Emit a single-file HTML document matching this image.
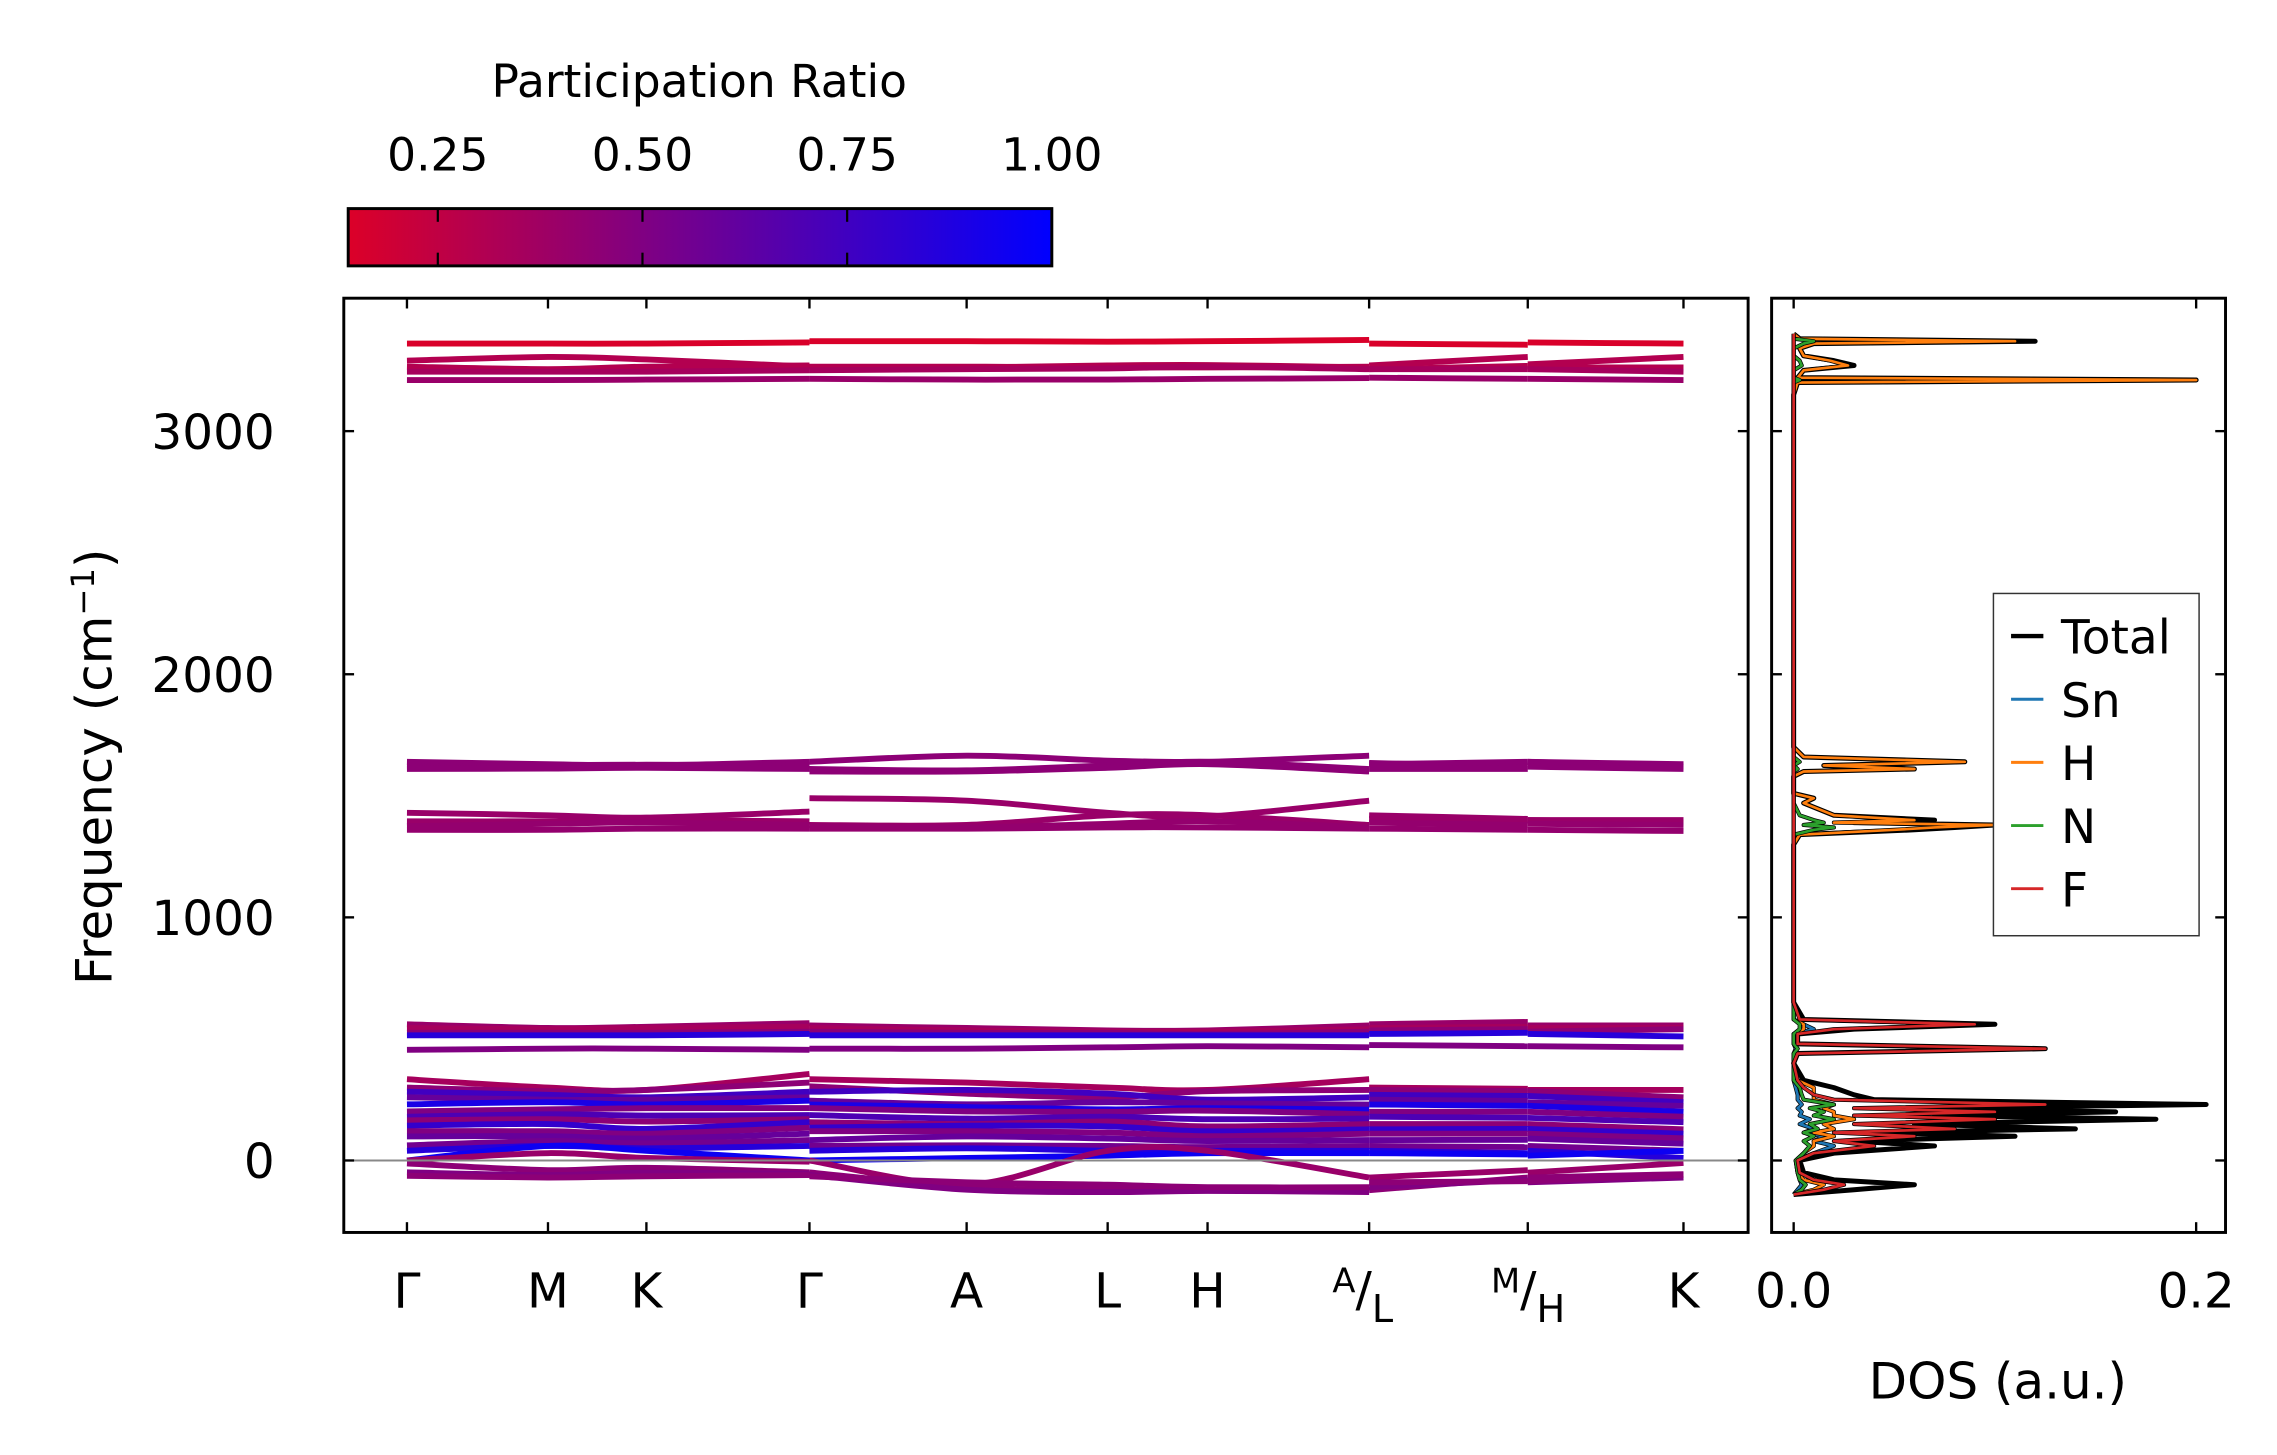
<!DOCTYPE html>
<html><head><meta charset="utf-8">
<style>
html,body{margin:0;padding:0;background:#fff;}
svg{display:block;font-family:"DejaVu Sans","Liberation Sans",sans-serif;}
</style></head>
<body>
<svg id="fig" width="2277" height="1455" viewBox="0 0 1550 990.5" xmlns="http://www.w3.org/2000/svg">
<defs>
<linearGradient id="cmap" x1="0" x2="1" y1="0" y2="0">
<stop offset="0" stop-color="rgb(220,0,40)"/><stop offset="1" stop-color="rgb(0,0,255)"/>
</linearGradient>
<clipPath id="mainclip"><rect x="234" y="203" width="956" height="636"/></clipPath>
<clipPath id="dosclip"><rect x="1206" y="203" width="309" height="636"/></clipPath>
</defs>
<g>
<text x="476" y="66" font-size="31" text-anchor="middle">Participation Ratio</text>
<rect x="237" y="142" width="479" height="39" fill="url(#cmap)" stroke="#000" stroke-width="2"/>
<g id="cbticks"></g>
</g>
<g id="main">
<g id="bands" clip-path="url(#mainclip)"></g>
<line x1="234" x2="1190" y1="790" y2="790" stroke="#888" stroke-width="1.4"/>
<rect x="234" y="203" width="956" height="636" fill="none" stroke="#000" stroke-width="2"/>
<g id="mainticks"></g>
<text transform="translate(76,522) rotate(-90)" font-size="34" text-anchor="middle">Frequency (cm<tspan dy="-12" font-size="22">−1</tspan><tspan dy="12">)</tspan></text>
</g>
<g id="dos">
<g id="doslines" clip-path="url(#dosclip)"></g>
<rect x="1206" y="203" width="309" height="636" fill="none" stroke="#000" stroke-width="2"/>
<g id="dosticks"></g>
<text x="1360" y="952" font-size="34" text-anchor="middle">DOS (a.u.)</text>
<g>
<rect x="1357" y="404" width="140" height="233" fill="#fff" stroke="#333" stroke-width="1"/>
<g id="legendentries"></g>
</g>
</g>
</svg>
<script>
// ---------- data ----------
const kLabels = ["Γ","M","K","Γ","A","L","H","A|L","M|H","K"];
const kTickDist = [0,96,163,274,381,477,545,655,763,869];
// band samples at path points: [Γ,M,K,Γ | Γ,A,L,H,A | L,M | H,K]
const kPathDist = [0,96,163,274, 274,381,477,545,655, 655,763, 763,869];
const segments = [[0,3],[4,8],[9,10],[11,12]];
const bandFreqs = [
 [3360,3360,3360,3365, 3370,3370,3368,3370,3375, 3360,3355, 3365,3360],
 [3290,3305,3295,3265, 3260,3262,3270,3272,3262, 3270,3305, 3275,3305],
 [3265,3255,3265,3270, 3265,3265,3262,3262,3265, 3255,3268, 3262,3262],
 [3245,3245,3245,3250, 3250,3255,3258,3265,3255, 3255,3255, 3255,3245],
 [3210,3210,3212,3215, 3215,3212,3212,3215,3218, 3220,3215, 3215,3210],
 [1640,1630,1625,1640, 1640,1665,1645,1640,1665, 1635,1620, 1640,1630],
 [1620,1625,1628,1625, 1610,1605,1625,1640,1610, 1630,1640, 1640,1620],
 [1610,1612,1615,1610, 1600,1600,1615,1630,1600, 1610,1610, 1620,1610],
 [1430,1420,1410,1435, 1490,1480,1430,1415,1480, 1420,1405, 1400,1390],
 [1395,1395,1400,1395, 1380,1380,1420,1420,1380, 1405,1395, 1400,1400],
 [1375,1385,1390,1380, 1375,1370,1385,1395,1370, 1390,1380, 1385,1380],
 [1360,1360,1365,1365, 1365,1365,1370,1370,1365, 1365,1360, 1360,1355],
 [560,545,550,565, 555,545,535,535,555, 560,570, 555,555],
 [545,540,545,550, 545,535,530,530,540, 545,550, 545,545],
 [525,525,525,530, 530,525,525,520,530, 535,540, 530,540],
 [515,515,515,520, 515,515,515,515,515, 520,525, 520,510],
 [455,460,460,455, 460,460,465,470,465, 475,470, 470,465],
 [334,300,290,356, 334,320,300,290,334, 300,295, 290,290],
 [300,285,290,320, 305,275,260,285,290, 290,285, 285,260],
 [283,270,260,283, 283,290,275,250,260, 270,265, 265,240],
 [260,250,250,260, 246,231,240,235,230, 250,245, 240,224],
 [231,240,230,246, 230,220,210,215,209, 230,225, 225,200],
 [202,210,215,216, 216,202,200,205,190, 200,200, 200,180],
 [180,190,185,187, 187,172,180,170,172, 180,175, 175,158],
 [165,170,160,170, 158,150,160,140,150, 150,150, 150,128],
 [143,150,130,158, 135,143,140,120,128, 128,130, 130,110],
 [120,120,110,135, 120,120,115,100,110, 110,110, 110,91],
 [99,100,90,110, 84,99,90,80,84, 84,85, 90,69],
 [62,80,70,84, 60,62,60,55,60, 60,55, 60,40],
 [40,60,50,60, 40,50,40,40,40, 40,30, 40,10],
 [0,60,40,0, 0,10,20,30,30, 30,25, 20,40],
 [0,30,10,-5, 0,-100,40,40,-70, -70,-40, -50,-10],
 [-12,-40,-30,-49, -49,-110,-120,-115,-122, -122,-70, -70,-56],
 [-49,-60,-50,-55, -60,-120,-130,-125,-130, -110,-80, -90,-70],
 [-63,-70,-65,-60, -65,-90,-100,-110,-110, -90,-85, -85,-60]
];
const bandPR = [0.15,0.3,0.3,0.35,0.4, 0.45,0.45,0.45, 0.4,0.4,0.42,0.42, 0.4,0.35,0.45,0.85,0.5,
 0.35,0.45,0.75,0.6,0.9,0.5,0.7,0.45,0.8,0.5,0.6,0.55,0.85,0.95,0.4,0.45,0.5,0.45];
const freqTicks = [0,1000,2000,3000];
const cbTicks = [0.25,0.50,0.75,1.00];
// DOS
const dosFreq = [-140,-120,-100,-80,-50,0,30,60,80,100,115,130,150,170,185,200,215,230,250,270,300,330,400,440,460,480,520,540,560,580,650,
 1300,1340,1360,1370,1380,1390,1400,1420,1470,1490,1510,1580,1600,1610,1625,1640,1660,1700,
 3150,3200,3210,3220,3250,3270,3290,3310,3340,3360,3370,3380,3400];
const dosTotal = [0,0.03,0.06,0.02,0.005,0.003,0.02,0.07,0.03,0.11,0.04,0.14,0.06,0.18,0.07,0.16,0.06,0.205,0.04,0.03,0.02,0.005,0,0.002,0.125,0.002,0.002,0.03,0.1,0.005,0,
 0,0.003,0.06,0.08,0.1,0.03,0.07,0.02,0.005,0.01,0,0,0.005,0.06,0.015,0.085,0.005,0,
 0,0.002,0.2,0.002,0.005,0.03,0.02,0.005,0.003,0.01,0.12,0.003,0];
const dosSn = [0,0.002,0.004,0.003,0.002,0.001,0.01,0.02,0.01,0.015,0.005,0.01,0.003,0.008,0.003,0.004,0.002,0.004,0.002,0.002,0.001,0,0,0,0.001,0,0,0.01,0.005,0,0,
 0,0,0,0,0,0,0,0,0,0,0,0,0,0,0,0,0,0, 0,0,0,0,0,0,0,0,0,0,0,0,0];
const dosH = [0,0.01,0.015,0.005,0.002,0.001,0.005,0.01,0.01,0.02,0.01,0.02,0.015,0.03,0.02,0.02,0.015,0.02,0.01,0.01,0.01,0.002,0,0,0.002,0,0,0.005,0.005,0,0,
 0,0.003,0.05,0.07,0.1,0.02,0.06,0.02,0.005,0.01,0,0,0.005,0.06,0.015,0.085,0.005,0,
 0,0.002,0.2,0.002,0.005,0.027,0.018,0.005,0.003,0.01,0.11,0.003,0];
const dosN = [0,0.004,0.006,0.003,0.002,0.001,0.005,0.008,0.005,0.01,0.005,0.012,0.008,0.02,0.01,0.015,0.008,0.02,0.005,0.004,0.003,0,0,0,0.002,0,0,0.003,0.003,0,0,
 0,0,0.01,0.02,0.005,0.015,0.01,0.003,0,0,0,0,0,0.002,0,0.003,0,0,
 0,0,0.003,0,0,0.004,0.003,0,0,0.005,0.01,0,0];
const dosF = [0,0.015,0.025,0.01,0.003,0.002,0.01,0.04,0.02,0.06,0.02,0.08,0.03,0.1,0.03,0.1,0.03,0.125,0.02,0.01,0.005,0.002,0,0.002,0.125,0.002,0.002,0.02,0.09,0.003,0,
 0,0,0,0,0,0,0,0,0,0,0,0,0,0,0,0,0,0, 0,0,0,0,0,0,0,0,0,0,0,0,0];
const dosSeriesNames = ["Total","Sn","H","N","F"];
const dosSeriesColors = ["#000000","#1f77b4","#ff7f0e","#2ca02c","#d62728"];
const dosTicks = [0.0,0.2];

// ---------- scales ----------
const NS="http://www.w3.org/2000/svg";
const yS = f => 790 - f*0.1655;
const xK = d => 277 + d*(1146-277)/869;
const xD = v => 1221 + v*(1495-1221)/0.2;
const xCB = v => 298 + (v-0.25)*(716-298)/0.75;
function prColor(p){ const t=Math.max(0,Math.min(1,(p-0.14)/0.86)); return `rgb(${Math.round(220*(1-t))},0,${Math.round(40+215*t)})`; }
function mk(tag, attrs, parent){ const e=document.createElementNS(NS,tag); for(const k in attrs) e.setAttribute(k,attrs[k]); parent.appendChild(e); return e; }
function smoothPath(pts){
  let d=`M${pts[0][0].toFixed(1)},${pts[0][1].toFixed(1)}`;
  for(let i=0;i<pts.length-1;i++){
    const p0=pts[Math.max(0,i-1)],p1=pts[i],p2=pts[i+1],p3=pts[Math.min(pts.length-1,i+2)];
    const c1=[p1[0]+(p2[0]-p0[0])/6,p1[1]+(p2[1]-p0[1])/6], c2=[p2[0]-(p3[0]-p1[0])/6,p2[1]-(p3[1]-p1[1])/6];
    d+=`C${c1[0].toFixed(1)},${c1[1].toFixed(1)} ${c2[0].toFixed(1)},${c2[1].toFixed(1)} ${p2[0].toFixed(1)},${p2[1].toFixed(1)}`;
  }
  return d;
}

// ---------- bands ----------
const gB=document.getElementById('bands');
bandFreqs.forEach((b,bi)=>{
  segments.forEach(([s,e])=>{
    const pts=[]; for(let i=s;i<=e;i++) pts.push([xK(kPathDist[i]),yS(b[i])]);
    const p=mk('path',{d:smoothPath(pts),fill:'none',stroke:prColor(bandPR[bi]),'stroke-width':4,'stroke-linecap':'butt'},gB);
    
    
  });
});

// ---------- main ticks ----------
const gT=document.getElementById('mainticks');
freqTicks.forEach(f=>{
  const y=yS(f);
  mk('line',{x1:234,x2:241,y1:y,y2:y,stroke:'#000','stroke-width':1.6},gT);
  mk('line',{x1:1183,x2:1190,y1:y,y2:y,stroke:'#000','stroke-width':1.6},gT);
  const t=mk('text',{x:187,y:y+12,'font-size':33,'text-anchor':'end'},gT); t.textContent=f;
  
  
});
kTickDist.forEach((d,i)=>{
  const x=xK(d);
  mk('line',{x1:x,x2:x,y1:832,y2:839,stroke:'#000','stroke-width':1.6},gT);
  mk('line',{x1:x,x2:x,y1:203,y2:210,stroke:'#000','stroke-width':1.6},gT);
  const lab=kLabels[i];
  let t;
  if(lab.includes('|')){
    const [a,b]=lab.split('|');
    t=mk('text',{x:x-25,y:880,'font-size':23},gT);
    const s1=mk('tspan',{},t); s1.textContent=a;
    const s2=mk('tspan',{'font-size':33,dy:9}, t); s2.textContent='/';
    const s3=mk('tspan',{'font-size':26,dy:11}, t); s3.textContent=b;
  } else {
    t=mk('text',{x:x,y:890,'font-size':33,'text-anchor':'middle'},gT); t.textContent=lab;
  }
  
  
});

// ---------- colorbar ticks ----------
const gC=document.getElementById('cbticks');
cbTicks.forEach(v=>{
  const x=xCB(v);
  if(v<1){ mk('line',{x1:x,x2:x,y1:142,y2:151,stroke:'#000','stroke-width':1.5},gC);
           mk('line',{x1:x,x2:x,y1:172,y2:181,stroke:'#000','stroke-width':1.5},gC); }
  const t=mk('text',{x:x,y:116,'font-size':31,'text-anchor':'middle'},gC); t.textContent=v.toFixed(2);
  
  
});

// ---------- DOS ----------
const gD=document.getElementById('doslines');
const dosSeries=[dosTotal,dosSn,dosH,dosN,dosF];
dosSeries.forEach((vals,si)=>{
  const d=vals.map((v,i)=>(i?'L':'M')+xD(v).toFixed(1)+','+yS(dosFreq[i]).toFixed(1)).join('');
  const under=mk('path',{d,fill:'none',stroke:'#000','stroke-width':si===0?3.4:2.8,'stroke-linejoin':'round'},gD);
  
  
  const p=mk('path',{d,fill:'none',stroke:dosSeriesColors[si],'stroke-width':si===0?2.6:1.8,'stroke-linejoin':'round'},gD);
  
  
});
const gDT=document.getElementById('dosticks');
freqTicks.forEach(f=>{
  const y=yS(f);
  mk('line',{x1:1206,x2:1213,y1:y,y2:y,stroke:'#000','stroke-width':1.6},gDT);
  mk('line',{x1:1508,x2:1515,y1:y,y2:y,stroke:'#000','stroke-width':1.6},gDT);
});
dosTicks.forEach(v=>{
  const x=xD(v);
  mk('line',{x1:x,x2:x,y1:832,y2:839,stroke:'#000','stroke-width':1.6},gDT);
  mk('line',{x1:x,x2:x,y1:203,y2:210,stroke:'#000','stroke-width':1.6},gDT);
  const t=mk('text',{x:x,y:890,'font-size':33,'text-anchor':'middle'},gDT); t.textContent=v.toFixed(1);
  
  
});
const gL=document.getElementById('legendentries');
dosSeriesNames.forEach((n,i)=>{
  const y=433+i*43;
  const l=mk('line',{x1:1369,x2:1391,y1:y,y2:y,stroke:dosSeriesColors[i],'stroke-width':i===0?3:2},gL);
  
  
  const t=mk('text',{x:1403,y:y+12,'font-size':32},gL); t.textContent=n;
  
  
});
</script>
</body></html>
